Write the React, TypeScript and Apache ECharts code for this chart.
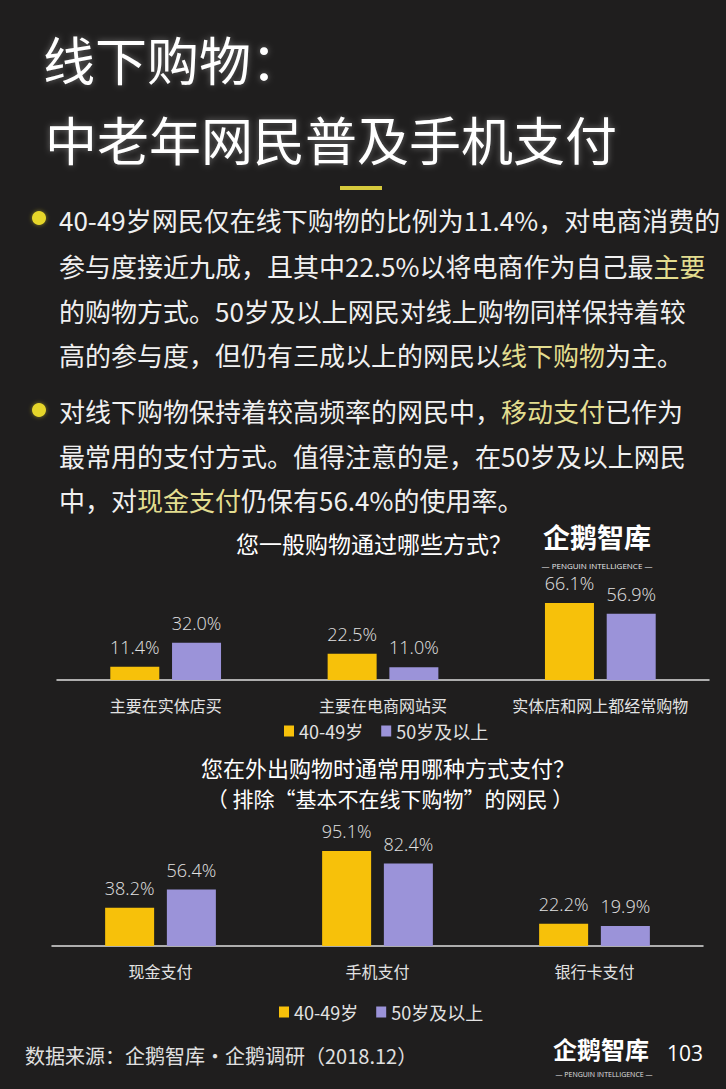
import React, { useEffect, useRef } from "react";
import * as echarts from "echarts";

const seriesNames = ["40-49岁", "50岁及以上"];
const categories1 = ["主要在实体店买", "主要在电商网站买", "实体店和网上都经常购物"];
const group4049Shop = [11.4, 22.5, 66.1];
const group50Shop = [32.0, 11.0, 56.9];
const categories2 = ["现金支付", "手机支付", "银行卡支付"];
const group4049Pay = [38.2, 95.1, 22.2];
const group50Pay = [56.4, 82.4, 19.9];

const titleLines = ["线下购物：", "中老年网民普及手机支付"];
const bullet1Lines = [
  "40-49岁网民仅在线下购物的比例为11.4%，对电商消费的",
  "参与度接近九成，且其中22.5%以将电商作为自己最{h|主要}",
  "的购物方式。50岁及以上网民对线上购物同样保持着较",
  "高的参与度，但仍有三成以上的网民以{h|线下购物}为主。",
];
const bullet2Lines = [
  "对线下购物保持着较高频率的网民中，{h|移动支付}已作为",
  "最常用的支付方式。值得注意的是，在50岁及以上网民",
  "中，对{h|现金支付}仍保有56.4%的使用率。",
];
const chart1Title = "您一般购物通过哪些方式？";
const chart2Title = ["您在外出购物时通常用哪种方式支付？", "（ 排除“基本不在线下购物”的网民 ）"];
const sourceText = "数据来源：企鹅智库·企鹅调研（2018.12）";
const pageNumber = "103";

const YELLOW = "#f7c10a";
const PURPLE = "#9b93d9";
const BG = "#1f1e1e";
const CJK = "'Noto Sans CJK SC', 'Noto Sans', sans-serif";
const NUM = "'Open Sans', 'Noto Sans', sans-serif";

export default function App() {
  const ref = useRef<HTMLDivElement>(null);

  useEffect(() => {
    document.body.style.margin = "0";
    document.body.style.background = BG;
    const chart = echarts.init(ref.current!, null, { renderer: "svg" });

    const labelCfg = {
      show: true,
      position: "top",
      distance: 11,
      color: "#e2e2e2",
      fontSize: 18,
      fontFamily: NUM,
      fontWeight: 300,
      formatter: (p: any) => Number(p.value).toFixed(1) + "%",
    };

    const xAxisBase = (gridIndex: number, data: string[]) => ({
      type: "category",
      gridIndex,
      data,
      axisLine: { lineStyle: { color: "#dedede", width: 1.5 } },
      axisTick: { show: false },
      axisLabel: { color: "#e2e2e2", fontSize: 16, fontFamily: CJK, margin: 17, interval: 0 },
    });
    const yAxisBase = (gridIndex: number) => ({
      type: "value",
      gridIndex,
      min: 0,
      max: 100,
      show: false,
      splitLine: { show: false },
    });

    const paraText = (text: string, y: number) => ({
      type: "text",
      style: {
        text,
        x: 59,
        y,
        fill: "#f0f0f0",
        fontSize: 26,
        fontFamily: CJK,
        verticalAlign: "middle",
        rich: { h: { fill: "#e3dd8f", fontSize: 26, fontFamily: CJK } },
      },
    });

    const b1Y = [219, 265, 310, 354];
    const b2Y = [410, 455, 499];

    const graphics: any[] = [
      {
        type: "text",
        style: {
          text: titleLines[0], x: 43, y: 58, fill: "#ffffff", fontSize: 52, fontFamily: CJK,
          verticalAlign: "middle", textShadowColor: "rgba(255,255,255,0.35)", textShadowBlur: 6,
        },
      },
      {
        type: "text",
        style: {
          text: titleLines[1], x: 45, y: 138, fill: "#ffffff", fontSize: 52, fontFamily: CJK,
          verticalAlign: "middle", textShadowColor: "rgba(255,255,255,0.35)", textShadowBlur: 6,
        },
      },
      { type: "rect", shape: { x: 340, y: 186, width: 42, height: 4 }, style: { fill: "#d6c93c" } },
      { type: "circle", shape: { cx: 39, cy: 218, r: 7 }, style: { fill: "#e6d62a", shadowColor: "rgba(230,214,42,0.5)", shadowBlur: 4 } },
      { type: "circle", shape: { cx: 39, cy: 410, r: 7 }, style: { fill: "#e6d62a", shadowColor: "rgba(230,214,42,0.5)", shadowBlur: 4 } },
      ...bullet1Lines.map((t, i) => paraText(t, b1Y[i])),
      ...bullet2Lines.map((t, i) => paraText(t, b2Y[i])),
      {
        type: "text",
        style: { text: chart1Title, x: 374, y: 543, fill: "#ffffff", fontSize: 23, fontFamily: CJK, align: "center", verticalAlign: "middle" },
      },
      {
        type: "text",
        style: { text: "企鹅智库", x: 597, y: 536, fill: "#ffffff", fontSize: 27, fontWeight: "bold", fontFamily: CJK, align: "center", verticalAlign: "middle" },
      },
      {
        type: "text",
        style: { text: "— PENGUIN INTELLIGENCE —", x: 597, y: 565, fill: "#e8e8e8", fontSize: 8, fontFamily: NUM, align: "center", verticalAlign: "middle" },
      },
      {
        type: "text",
        style: { text: chart2Title[0], x: 388, y: 767, fill: "#ffffff", fontSize: 22, fontFamily: CJK, align: "center", verticalAlign: "middle" },
      },
      {
        type: "text",
        style: { text: chart2Title[1], x: 390, y: 798, fill: "#ffffff", fontSize: 21, fontFamily: CJK, align: "center", verticalAlign: "middle" },
      },
      {
        type: "text",
        style: { text: sourceText, x: 25, y: 1055, fill: "#e0e0e0", fontSize: 20, fontFamily: CJK, verticalAlign: "middle" },
      },
      {
        type: "text",
        style: { text: "企鹅智库", x: 601, y: 1048, fill: "#ffffff", fontSize: 24, fontWeight: "bold", fontFamily: CJK, align: "center", verticalAlign: "middle" },
      },
      {
        type: "text",
        style: { text: "— PENGUIN INTELLIGENCE —", x: 604, y: 1074, fill: "#e0e0e0", fontSize: 7, fontFamily: NUM, align: "center", verticalAlign: "middle" },
      },
      {
        type: "text",
        style: { text: pageNumber, x: 685, y: 1053, fill: "#ffffff", fontSize: 21, fontFamily: NUM, align: "center", verticalAlign: "middle" },
      },
    ];

    const legendBase = (top: number, left: number) => ({
      data: seriesNames,
      top,
      left,
      orient: "horizontal",
      icon: "rect",
      itemWidth: 10,
      itemHeight: 11,
      itemGap: 18,
      textStyle: { color: "#e2e2e2", fontSize: 18, fontFamily: CJK },
      selectedMode: false,
    });

    const barSeries = (name: string, data: number[], idx: number, color: string) => ({
      name,
      type: "bar",
      xAxisIndex: idx,
      yAxisIndex: idx,
      data,
      barWidth: 49,
      barGap: "26%",
      itemStyle: { color },
      label: labelCfg,
    });

    chart.setOption({
      animation: false,
      backgroundColor: BG,
      grid: [
        { left: 57, top: 563.5, width: 652, height: 116.5 },
        { left: 52, top: 846, width: 651, height: 100 },
      ],
      xAxis: [xAxisBase(0, categories1), xAxisBase(1, categories2)],
      yAxis: [yAxisBase(0), yAxisBase(1)],
      legend: [legendBase(717, 279), legendBase(998, 274)],
      series: [
        barSeries(seriesNames[0], group4049Shop, 0, YELLOW),
        barSeries(seriesNames[1], group50Shop, 0, PURPLE),
        barSeries(seriesNames[0], group4049Pay, 1, YELLOW),
        barSeries(seriesNames[1], group50Pay, 1, PURPLE),
      ],
      graphic: graphics,
    });

    return () => chart.dispose();
  }, []);

  return (
    <div
      ref={ref}
      style={{ position: "fixed", left: 0, top: 0, width: 726, height: 1089, background: BG }}
    />
  );
}
